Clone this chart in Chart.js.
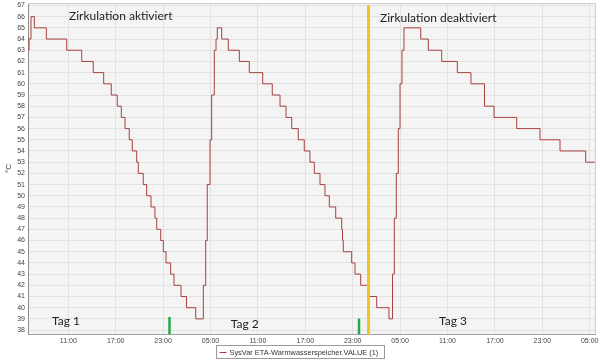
<!DOCTYPE html>
<html>
<head>
<meta charset="utf-8">
<script src="https://cdn.jsdelivr.net/npm/chart.js@4"></script>
<style>
  html, body { margin: 0; padding: 0; background: #ffffff; }
  #c { display: block; }
</style>
</head>
<body>
<canvas id="c" width="600" height="360"></canvas>
<script>
// ---- data (hours since midnight of day 1, level in °C) ----
const stepHours = [5.90, 6.03, 6.28, 6.70, 8.22, 10.80, 12.70, 14.16, 15.48, 16.44, 17.20, 17.71, 18.18, 18.72, 19.10, 19.66, 19.86, 20.49, 20.92, 21.47, 21.97, 22.19, 22.70, 23.03, 23.37, 23.96, 24.38, 25.27, 25.96, 27.13, 28.09, 28.39, 28.59, 28.94, 29.15, 29.48, 29.70, 29.86, 30.42, 31.25, 32.65, 33.91, 35.61, 36.82, 37.80, 38.56, 39.28, 40.11, 40.87, 41.59, 42.14, 42.86, 43.49, 44.04, 44.85, 45.61, 45.71, 45.81, 46.87, 47.29, 48.01, 49.06, 50.04, 51.59, 52.04, 52.27, 52.52, 52.77, 52.99, 53.24, 53.49, 55.61, 56.57, 58.27, 60.24, 61.97, 63.68, 64.89, 67.76, 70.71, 73.24, 76.49, 77.67];
const stepValues = [63, 64, 66, 65, 64, 63, 62, 61, 60, 59, 58, 57, 56, 55, 54, 53, 52, 51, 50, 49, 48, 47, 46, 45, 44, 43, 42, 41, 40, 39, 42, 46, 51, 55, 59, 63, 64, 65, 64, 63, 62, 61, 60, 59, 58, 57, 56, 55, 54, 53, 52, 51, 50, 49, 48, 47, 46, 45, 44, 43, 42, 41, 40, 39, 43, 48, 52, 56, 60, 63, 65, 64, 63, 62, 61, 60, 58, 57, 56, 55, 54, 53, 53];
const seriesLabel = "SysVar ETA-Warmwasserspeicher.VALUE (1)";

const xTickHours = [11, 17, 23, 29, 35, 41, 47, 53, 59, 65, 71, 77];
const xTickLabels = ["11:00", "17:00", "23:00", "05:00", "11:00", "17:00", "23:00", "05:00", "11:00", "17:00", "23:00", "05:00"];
const yTickValues = [38, 39, 40, 41, 42, 43, 44, 45, 46, 47, 48, 49, 50, 51, 52, 53, 54, 55, 56, 57, 58, 59, 60, 61, 62, 63, 64, 65, 66, 67];

// annotations (hour, value)
const textNotes = [
  { text: "Zirkulation aktiviert",   x: 11.09, y: 65.72 },
  { text: "Zirkulation deaktiviert", x: 50.46, y: 65.55 },
  { text: "Tag 1", x: 8.94,  y: 38.46 },
  { text: "Tag 2", x: 31.56, y: 38.16 },
  { text: "Tag 3", x: 57.92, y: 38.46 }
];
const yellowMarkHour = 49.0;
const greenMarks = [ { x: 23.81, top: 39.17 }, { x: 47.80, top: 39.03 } ];

const LINE_COLOR = '#a6403e';

const decorPlugin = {
  id: 'decor',
  beforeDraw(chart) {
    const { ctx, chartArea: a } = chart;
    ctx.save();
    ctx.fillStyle = '#f4f4f4';
    ctx.fillRect(a.left, a.top, a.right - a.left, a.bottom - a.top);
    ctx.restore();
  },
  afterDatasetsDraw(chart) {
    const { ctx, chartArea: a, scales: { x, y } } = chart;
    ctx.save();
    // top/right frame
    ctx.strokeStyle = '#cfcfcf';
    ctx.lineWidth = 1;
    ctx.beginPath();
    ctx.moveTo(a.left, a.top + 0.5); ctx.lineTo(a.right + 0.5, a.top + 0.5);
    ctx.lineTo(a.right + 0.5, a.bottom);
    ctx.stroke();
    // yellow marker
    ctx.strokeStyle = '#f6c21c';
    ctx.lineWidth = 3;
    ctx.beginPath();
    ctx.moveTo(x.getPixelForValue(yellowMarkHour), y.getPixelForValue(67));
    ctx.lineTo(x.getPixelForValue(yellowMarkHour), a.bottom + 1);
    ctx.stroke();
    // green markers
    ctx.strokeStyle = '#25a845';
    ctx.lineWidth = 2.5;
    greenMarks.forEach(g => {
      ctx.beginPath();
      ctx.moveTo(x.getPixelForValue(g.x), y.getPixelForValue(g.top));
      ctx.lineTo(x.getPixelForValue(g.x), a.bottom);
      ctx.stroke();
    });
    // text notes
    ctx.fillStyle = '#222222';
    ctx.font = '12px Lato';
    ctx.textAlign = 'left';
    ctx.textBaseline = 'alphabetic';
    textNotes.forEach(n => {
      ctx.fillText(n.text, x.getPixelForValue(n.x), y.getPixelForValue(n.y));
    });
    ctx.restore();
  },
  afterDraw(chart) {
    const { ctx } = chart;
    ctx.save();
    ctx.font = '7.4px "Liberation Sans"';
    const left = 216.5;
    const top = 345.5;
    const boxW = 168;
    ctx.strokeStyle = '#9a9a9a';
    ctx.lineWidth = 1;
    ctx.strokeRect(left, top, boxW, 13);
    ctx.strokeStyle = LINE_COLOR;
    ctx.beginPath();
    ctx.moveTo(left + 3, 352.5); ctx.lineTo(left + 10, 352.5);
    ctx.stroke();
    ctx.fillStyle = '#333333';
    ctx.textBaseline = 'middle';
    ctx.textAlign = 'left';
    ctx.fillText(seriesLabel, left + 13, 352.5);
    ctx.restore();
  }
};

new Chart(document.getElementById('c'), {
  type: 'line',
  data: {
    datasets: [{
      label: seriesLabel,
      data: stepHours.map((h, i) => ({ x: h, y: stepValues[i] })),
      borderColor: LINE_COLOR,
      borderWidth: 1,
      pointRadius: 0,
      fill: false,
      stepped: true,
      tension: 0
    }]
  },
  options: {
    responsive: false,
    animation: false,
    devicePixelRatio: 1,
    layout: { padding: { left: 0, top: 3, right: 5, bottom: 0 } },
    plugins: { legend: { display: false }, tooltip: { enabled: false } },
    scales: {
      x: {
        type: 'linear',
        min: 5.9,
        max: 77.67,
        afterBuildTicks(s) { s.ticks = xTickHours.map(v => ({ value: v })); },
        afterFit(s) { s.height = 26; s.paddingLeft = 0; s.paddingRight = 0; },
        ticks: {
          autoSkip: false, maxRotation: 0, minRotation: 0, padding: 3,
          color: '#444444',
          font: { family: 'Liberation Sans', size: 7 },
          callback(v) { const i = xTickHours.indexOf(v); return i >= 0 ? xTickLabels[i] : ''; }
        },
        grid: { color: '#e2e2e2', drawTicks: false },
        border: { display: true, color: '#a0a0a0' }
      },
      y: {
        min: 37.65,
        max: 67.22,
        afterBuildTicks(s) { s.ticks = yTickValues.map(v => ({ value: v })); },
        afterFit(s) { s.width = 28; s.paddingTop = 0; s.paddingBottom = 0; },
        ticks: {
          autoSkip: false,
          padding: 3, color: '#444444',
          font: { family: 'Liberation Sans', size: 7 },
          callback(v) { return String(v); }
        },
        grid: { color: '#e2e2e2', drawTicks: false },
        border: { display: true, color: '#8c8c8c' },
        title: { display: true, text: '°C', color: '#444444', font: { family: 'Liberation Sans', size: 8 }, padding: { top: 4, bottom: 0 } }
      }
    }
  },
  plugins: [decorPlugin]
});
</script>
</body>
</html>
